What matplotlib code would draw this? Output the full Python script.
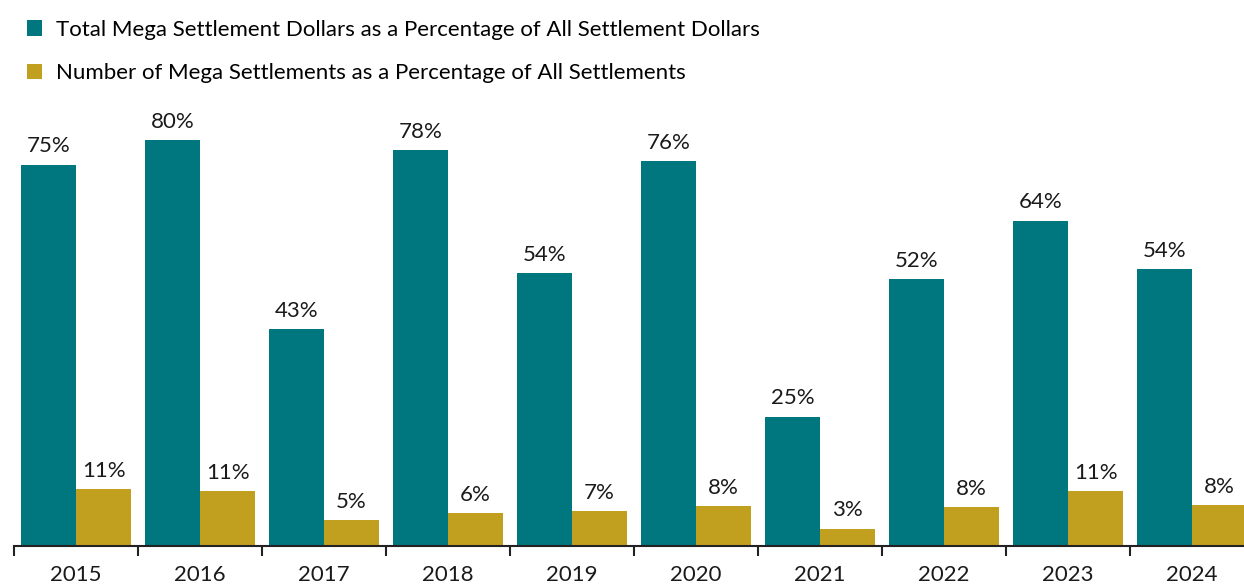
import numpy as np
import matplotlib
matplotlib.use("Agg")
import matplotlib.pyplot as plt
from matplotlib.ticker import FixedLocator

plt.rcParams['font.family'] = ['Lato', 'DejaVu Sans']

years = ['2015', '2016', '2017', '2018', '2019', '2020', '2021', '2022', '2023', '2024']
dollars_pct = [74.8, 79.6, 42.6, 77.6, 53.5, 75.5, 25.4, 52.3, 63.8, 54.3]
count_pct = [11.2, 10.8, 5.1, 6.4, 6.8, 7.8, 3.4, 7.6, 10.8, 8.0]
series_names = ['Total Mega Settlement Dollars as a Percentage of All Settlement Dollars',
                'Number of Mega Settlements as a Percentage of All Settlements']

teal = '#00767F'
gold = '#C2A01F'

fig = plt.figure(figsize=(12.44, 5.85), dpi=100)
ax = fig.add_axes([14 / 1244, 39 / 585, 1230 / 1244, 446 / 585])

x = np.arange(len(years))
w = 0.445
b1 = ax.bar(x - w / 2, dollars_pct, w, color=teal, label=series_names[0])
b2 = ax.bar(x + w / 2, count_pct, w, color=gold, label=series_names[1])

for bars in (b1, b2):
    for r in bars:
        h = r.get_height()
        ax.annotate('{:.0f}%'.format(h), (r.get_x() + r.get_width() / 2, h),
                    xytext=(0, 6), textcoords='offset points',
                    ha='center', va='bottom', fontsize=16, color='#1a1a1a')

ax.set_xlim(-0.5, 9.42)
ax.set_ylim(0, 87.5)
ax.set_yticks([])
for s in ['top', 'right', 'left']:
    ax.spines[s].set_visible(False)
ax.spines['bottom'].set_linewidth(1.5)
ax.spines['bottom'].set_color('#222222')

ax.set_xticks(x)
ax.set_xticklabels(years, fontsize=16, color='#1a1a1a')
ax.tick_params(axis='x', which='major', length=0, pad=14)
ax.xaxis.set_minor_locator(FixedLocator(np.arange(-0.5, 9.6, 1)))
ax.tick_params(axis='x', which='minor', length=7, width=1.5, color='#222222')

fig.legend(handles=[b1, b2], loc='upper left', bbox_to_anchor=(18 / 1244, 1 - 11 / 585),
           frameon=False, fontsize=16, handlelength=0.7, handleheight=0.7,
           handletextpad=0.6, labelspacing=1.05, borderaxespad=0)

fig.savefig('out.png', dpi=100)
